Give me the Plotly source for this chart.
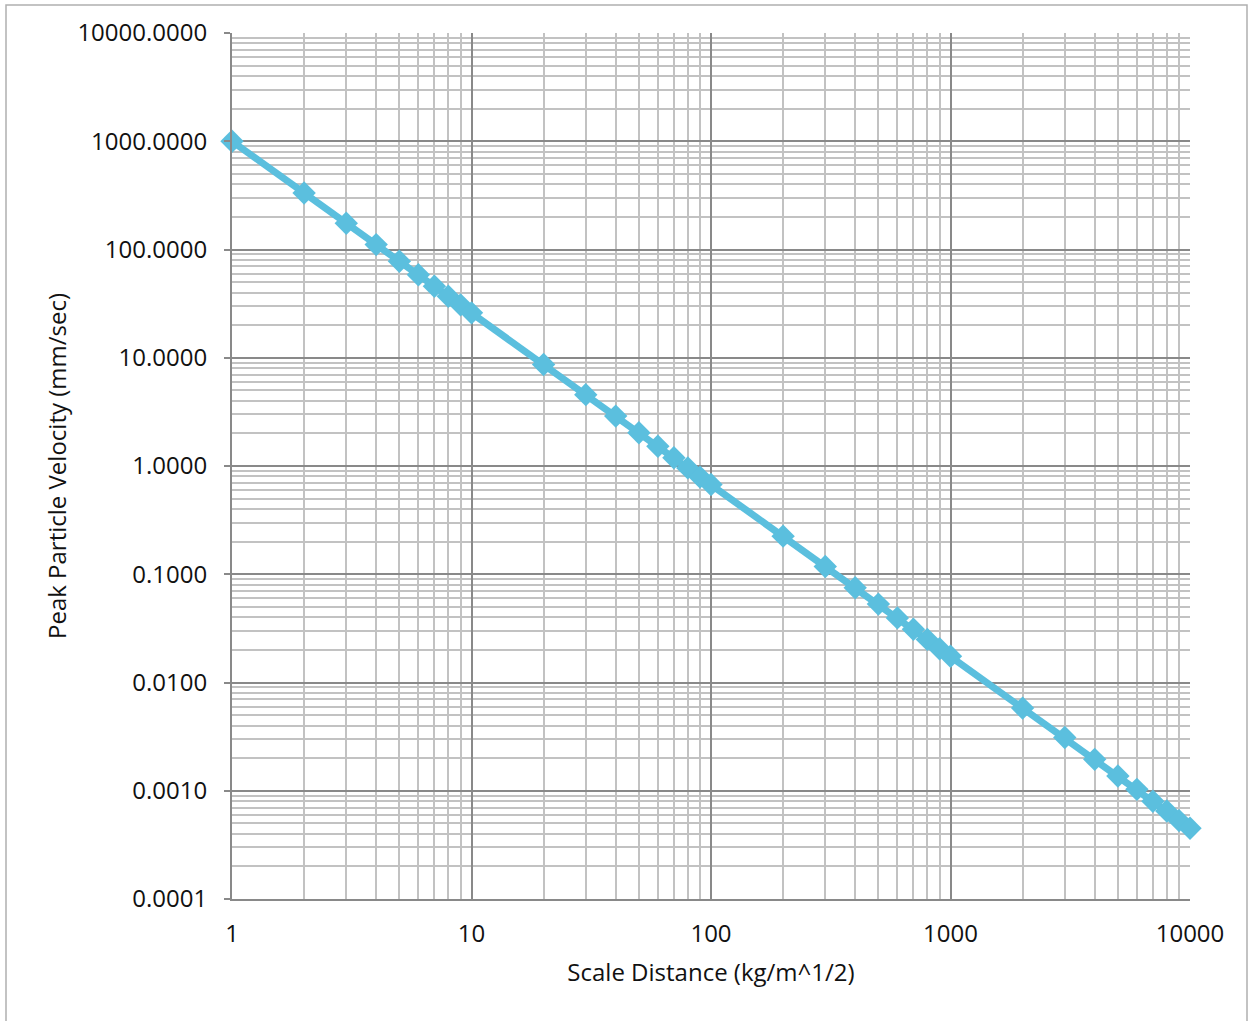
import plotly.graph_objects as go

scale_distance = [1, 2, 3, 4, 5, 6, 7, 8, 9, 10,
                  20, 30, 40, 50, 60, 70, 80, 90, 100,
                  200, 300, 400, 500, 600, 700, 800, 900, 1000,
                  2000, 3000, 4000, 5000, 6000, 7000, 8000, 9000, 10000]
ppv = [1000, 333, 175, 111, 78, 58.5, 45.7, 37, 30.8, 26,
       8.66, 4.56, 2.89, 2.03, 1.52, 1.19, 0.96, 0.79, 0.675,
       0.225, 0.118, 0.075, 0.053, 0.0395, 0.031, 0.025, 0.0205, 0.0175,
       0.0058, 0.0031, 0.00195, 0.00137, 0.00103, 0.0008, 0.00065, 0.00053, 0.00045]

x_title = "Scale Distance (kg/m^1/2)"
y_title = "Peak Particle Velocity (mm/sec)"

W, H = 1252, 1021
ML, MR, MT, MB = 232, 62, 33, 122
font_family = "Open Sans, Liberation Sans, sans-serif"
line_color = "#5BBFDE"
major_grid = "#898989"
minor_grid = "#C2C2C2"

fig = go.Figure()
fig.add_trace(go.Scatter(
    x=scale_distance, y=ppv, mode="lines+markers",
    line=dict(color=line_color, width=7),
    marker=dict(symbol="diamond", size=18, color=line_color),
    showlegend=False, cliponaxis=False,
))

pw = W - ML - MR
ph = H - MT - MB
fig.add_shape(type="rect", xref="paper", yref="paper",
              x0=(6 - ML) / pw, x1=(1247 - ML) / pw,
              y0=-(H + 10 - MT - ph) / ph, y1=1 + (MT - 5) / ph,
              line=dict(color="#B0B0B0", width=1.5), layer="below")

fig.update_layout(
    width=W, height=H,
    margin=dict(l=ML, r=MR, t=MT, b=MB),
    paper_bgcolor="white", plot_bgcolor="white",
    font=dict(family=font_family, size=24, color="#111111"),
    xaxis=dict(
        type="log", range=[0, 4], dtick=1, tickformat="d",
        showgrid=True, gridcolor=major_grid, gridwidth=2,
        minor=dict(dtick="D1", showgrid=True, gridcolor=minor_grid, gridwidth=2),
        showline=True, linecolor=major_grid, linewidth=2,
        ticks="", ticklabelstandoff=12,
        title=dict(text=x_title, font=dict(size=24), standoff=16),
        zeroline=False,
    ),
    yaxis=dict(
        type="log", range=[-4, 4], dtick=1, tickformat=".4f",
        showgrid=True, gridcolor=major_grid, gridwidth=2,
        minor=dict(dtick="D1", showgrid=True, gridcolor=minor_grid, gridwidth=2),
        showline=True, linecolor=major_grid, linewidth=2,
        ticks="outside", ticklen=6, tickcolor=major_grid, tickwidth=2,
        ticklabelstandoff=12,
        title=dict(text=y_title, font=dict(size=24), standoff=4),
        zeroline=False,
    ),
)

fig.write_html("out.html", config={"displayModeBar": False},
               post_script="document.body.style.margin='0';document.body.style.overflow='hidden';")
